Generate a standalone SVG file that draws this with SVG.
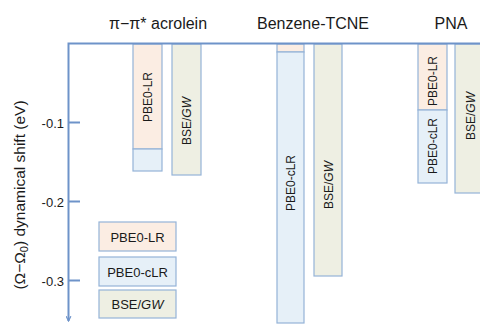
<svg xmlns="http://www.w3.org/2000/svg" width="480" height="325" viewBox="0 0 480 325">
  <style>
    .lr { fill: #FBEDE3; }
    .clr { fill: #E6F0F8; }
    .gw { fill: #EEEFE3; }
    .bar { stroke: #94B3D8; stroke-width: 1.2; }
    .axis { stroke: #6E93C9; stroke-width: 2; fill: none; }
    .t { font-family: "Liberation Sans", Arial, sans-serif; fill: #1a1a1a; }
    .title { font-size: 16px; text-anchor: middle; }
    .tick { font-size: 13px; text-anchor: end; }
    .lbl { font-size: 12px; text-anchor: middle; }
    .leg { font-size: 13px; text-anchor: middle; }
  </style>
  <defs>
    <marker id="arrow" viewBox="0 0 10 10" refX="9" refY="5" markerWidth="6" markerHeight="6" orient="auto" markerUnits="userSpaceOnUse">
      <path d="M1,1 L9,5 L1,9" fill="none" stroke="#6E93C9" stroke-width="2"/>
    </marker>
  </defs>

  <rect width="480" height="325" fill="#ffffff"/>

  <!-- column titles -->
  <text class="t title" x="158" y="29">π−π* acrolein</text>
  <text class="t title" x="313" y="29">Benzene-TCNE</text>
  <text class="t title" x="451" y="29">PNA</text>

  <!-- y-axis label -->
  <text class="t" font-size="15.5" text-anchor="middle" transform="translate(25,195) rotate(-90)">(Ω−Ω<tspan font-size="11" dy="3">0</tspan><tspan dy="-3">) dynamical shift (eV)</tspan></text>

  <!-- bars: acrolein -->
  <g id="acrolein">
    <rect class="bar lr" x="133" y="44" width="29" height="105"/>
    <rect class="bar clr" x="133" y="149" width="29" height="22"/>
    <rect class="bar gw" x="172" y="44" width="29" height="131"/>
    <text class="t lbl" transform="translate(151.5,97) rotate(-90)">PBE0-LR</text>
    <text class="t lbl" transform="translate(190.5,121) rotate(-90)">BSE/<tspan font-style="italic">GW</tspan></text>
  </g>

  <!-- bars: benzene-TCNE -->
  <g id="benzene-tcne">
    <rect class="bar lr" x="277" y="44" width="27" height="8"/>
    <rect class="bar clr" x="277" y="52" width="27" height="271"/>
    <rect class="bar gw" x="314" y="44" width="28" height="232"/>
    <text class="t lbl" transform="translate(294.5,183) rotate(-90)">PBE0-cLR</text>
    <text class="t lbl" transform="translate(332.5,185) rotate(-90)">BSE/<tspan font-style="italic">GW</tspan></text>
  </g>

  <!-- bars: PNA -->
  <g id="pna">
    <rect class="bar lr" x="418" y="44" width="29" height="66"/>
    <rect class="bar clr" x="418" y="110" width="29" height="73"/>
    <rect class="bar gw" x="455" y="44" width="30" height="149"/>
    <text class="t lbl" transform="translate(436.5,81) rotate(-90)">PBE0-LR</text>
    <text class="t lbl" transform="translate(436.5,146) rotate(-90)">PBE0-cLR</text>
    <text class="t lbl" transform="translate(474.5,116) rotate(-90)">BSE/<tspan font-style="italic">GW</tspan></text>
  </g>

  <!-- legend -->
  <g id="legend-lr">
    <rect class="bar lr" x="99" y="222" width="77" height="29"/>
    <text class="t leg" x="137.5" y="241.5">PBE0-LR</text>
  </g>
  <g id="legend-clr">
    <rect class="bar clr" x="99" y="257" width="77" height="29"/>
    <text class="t leg" x="137.5" y="276.5">PBE0-cLR</text>
  </g>
  <g id="legend-gw">
    <rect class="bar gw" x="99" y="290" width="77" height="28"/>
    <text class="t leg" x="137.5" y="309">BSE/<tspan font-style="italic">GW</tspan></text>
  </g>

  <!-- axes -->
  <g id="axes">
    <path class="axis" d="M480,43.5 L68.5,43.5 L68.5,321" marker-end="url(#arrow)"/>
    <path class="axis" d="M68.5,122.5 H80 M68.5,201.5 H80 M68.5,280.5 H80"/>
    <text class="t tick" x="64" y="127.5">-0.1</text>
    <text class="t tick" x="64" y="206.5">-0.2</text>
    <text class="t tick" x="64" y="285.5">-0.3</text>
  </g>
</svg>
